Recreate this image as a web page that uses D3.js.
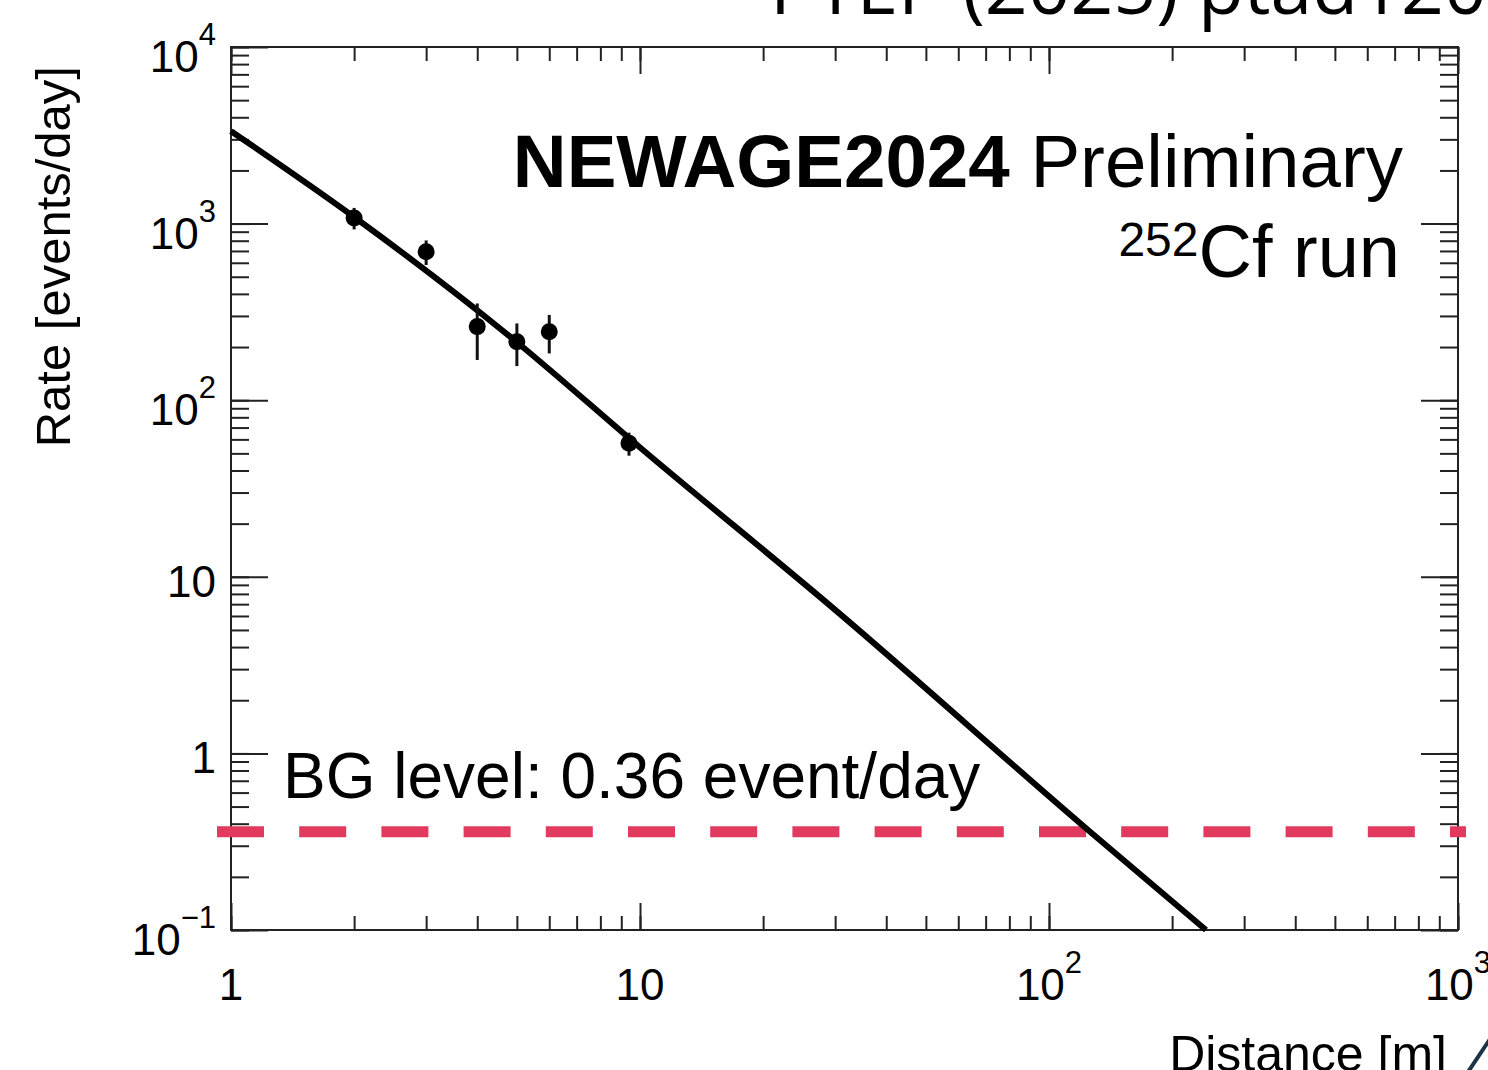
<!DOCTYPE html>
<html>
<head>
<meta charset="utf-8">
<script src="https://cdn.jsdelivr.net/npm/d3@7"></script>
<style>
  html, body { margin: 0; padding: 0; background: #fff; }
  svg { display: block; }
  text { font-family: "Liberation Sans", Arial, Helvetica, sans-serif; fill: #000; }
</style>
</head>
<body>
<div id="plot"></div>
<script>
// measured rates (events/day) vs distance (m)
const distances = [2, 3, 4, 5, 6, 9.4];
const rates = [1077, 693, 261, 214, 244, 57];
const rateErrors = [150, 110, 92, 58, 60, 8.5];

// fit curve
const fitDistances = [1, 2, 5, 10, 30, 126, 242];
const fitRates = [3340, 1090, 213, 54, 6.5, 0.36, 0.1];

// background level
const bgLevel = 0.36;

// tick labels: [value, base, exponent]
const xTickLabels = [[1, '1', ''], [10, '10', ''], [100, '10', '2'], [1000, '10', '3']];
const yTickLabels = [[1e4, '10', '4'], [1e3, '10', '3'], [1e2, '10', '2'], [10, '10', ''], [1, '1', ''], [0.1, '10', '\u22121']];

const W = 1488, H = 1070;
const frameL = 231, frameR = 1458, frameT = 47, frameB = 930;

const svg = d3.select('#plot').append('svg')
    .attr('width', W)
    .attr('height', H);

// log scales
let x = d3.scaleLog().domain([1, 1000]).range([frameL, frameR]);
let y = d3.scaleLog().domain([0.1, 1e4]).range([frameB, frameT]);

// minor + major tick marks on all four sides (pointing inwards)
function drawTicks(axisFn, transform, scale, minorLen, majorLen, majors) {
    svg.append('g')
        .attr('transform', transform)
        .call(axisFn(scale).tickValues(scale.ticks()).tickSizeInner(-minorLen).tickSizeOuter(0).tickFormat(''));
    svg.append('g')
        .attr('transform', transform)
        .call(axisFn(scale).tickValues(majors).tickSizeInner(-majorLen).tickSizeOuter(0).tickFormat(''));
}
drawTicks(d3.axisBottom, `translate(0,${frameB})`, x, 14, 27, [1, 10, 100, 1000]);
drawTicks(d3.axisTop, `translate(0,${frameT})`, x, 14, 27, [1, 10, 100, 1000]);
drawTicks(d3.axisLeft, `translate(${frameL},0)`, y, 18, 37, [0.1, 1, 10, 100, 1e3, 1e4]);
drawTicks(d3.axisRight, `translate(${frameR},0)`, y, 18, 37, [0.1, 1, 10, 100, 1e3, 1e4]);
svg.selectAll('.tick line').attr('stroke', '#222').attr('stroke-width', 2);
svg.selectAll('.domain').remove();

// frame
svg.append('rect')
    .attr('x', frameL).attr('y', frameT)
    .attr('width', frameR - frameL).attr('height', frameB - frameT)
    .attr('fill', 'none')
    .attr('stroke', '#222')
    .attr('stroke-width', 2);

// tick labels with superscripts
function addLabel(px, py, base, exp, anchor) {
    let t = svg.append('text')
        .attr('x', px)
        .attr('y', py)
        .attr('text-anchor', anchor)
        .attr('font-size', 44);
    t.append('tspan').text(base);
    if (exp) {
        t.append('tspan').attr('font-size', 31).attr('dy', -27).text(exp);
    }
}
xTickLabels.forEach(d => addLabel(x(d[0]), 1000, d[1], d[2], 'middle'));
yTickLabels.forEach(d => addLabel(216, y(d[0]) + (d[2] ? 25 : 20), d[1], d[2], 'end'));

// axis titles
svg.append('text')
    .attr('transform', 'translate(70,66) rotate(-90)')
    .attr('text-anchor', 'end')
    .attr('font-size', 49)
    .text('Rate [events/day]');
svg.append('text')
    .attr('x', 1447).attr('y', 1071)
    .attr('text-anchor', 'end')
    .attr('font-size', 50)
    .text('Distance [m]');

// background level dashed line (runs a little past the frame)
svg.append('line')
    .attr('x1', 217).attr('x2', 1466)
    .attr('y1', y(bgLevel)).attr('y2', y(bgLevel))
    .attr('stroke', '#e23a5e')
    .attr('stroke-width', 11)
    .attr('stroke-dasharray', '47 35.2');

// fit curve
let line = d3.line()
    .x(d => x(d[0]))
    .y(d => y(d[1]))
    .curve(d3.curveMonotoneX);
svg.append('path')
    .datum(fitDistances.map((d, i) => [d, fitRates[i]]))
    .attr('d', line)
    .attr('fill', 'none')
    .attr('stroke', '#000')
    .attr('stroke-width', 6);

// data points with error bars
let pts = distances.map((d, i) => ({ dist: d, rate: rates[i], err: rateErrors[i] }));
svg.selectAll('line.err')
    .data(pts)
    .enter()
    .append('line')
    .attr('class', 'err')
    .attr('x1', d => x(d.dist)).attr('x2', d => x(d.dist))
    .attr('y1', d => y(d.rate + d.err))
    .attr('y2', d => y(d.rate - d.err))
    .attr('stroke', '#111')
    .attr('stroke-width', 3);
svg.selectAll('circle.pt')
    .data(pts)
    .enter()
    .append('circle')
    .attr('class', 'pt')
    .attr('cx', d => x(d.dist))
    .attr('cy', d => y(d.rate))
    .attr('r', 8.5)
    .attr('fill', '#000');

// labels inside the frame
let title = svg.append('text')
    .attr('x', 1403).attr('y', 187)
    .attr('text-anchor', 'end')
    .attr('font-size', 74.5);
title.append('tspan').attr('font-weight', 'bold').text('NEWAGE2024');
title.append('tspan').text(' Preliminary');

let run = svg.append('text')
    .attr('x', 1400).attr('y', 277)
    .attr('text-anchor', 'end')
    .attr('font-size', 74);
run.append('tspan').attr('font-size', 48).attr('dy', -21).text('252');
run.append('tspan').attr('dy', 21).text('Cf run');

svg.append('text')
    .attr('x', 283).attr('y', 798)
    .attr('font-size', 64)
    .text('BG level: 0.36 event/day');

// slide header cut by the top edge
svg.append('text')
    .attr('x', 770).attr('y', 14)
    .attr('font-size', 75)
    .style('font-family', '"Open Sans", "Noto Sans", sans-serif')
    .text('PTEP (2025) ptad120');

// corner stroke from the slide
svg.append('line')
    .attr('x1', 1468).attr('y1', 1072)
    .attr('x2', 1492).attr('y2', 1036)
    .attr('stroke', '#1c3345')
    .attr('stroke-width', 4);
</script>
</body>
</html>
